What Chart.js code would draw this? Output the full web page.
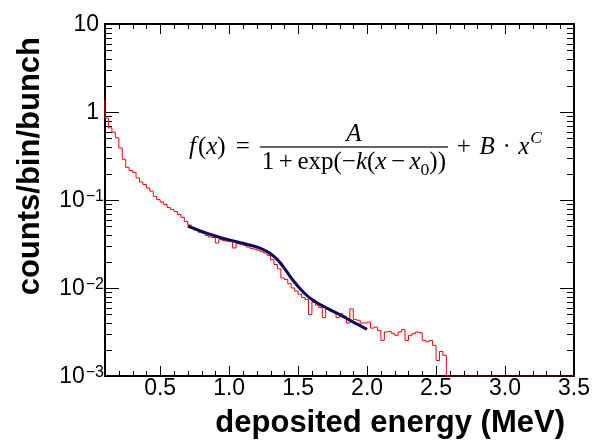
<!DOCTYPE html>
<html>
<head>
<meta charset="utf-8">
<script src="https://cdn.jsdelivr.net/npm/chart.js@4.4.0/dist/chart.umd.min.js"></script>
<style>
  html, body { margin: 0; padding: 0; background: #fff; }
  #wrap { width: 594px; height: 440px; }
</style>
</head>
<body>
<div id="wrap"><canvas id="c" width="594" height="440"></canvas></div>
<script>
// histogram: 0.025 MeV bins starting at 0.1 MeV
const binStart = 0.1;
const binWidth = 0.025;
const counts = [
  1.37, 0.85, 0.66, 0.59, 0.51, 0.39, 0.29, 0.235, 0.216, 0.206,
  0.178, 0.160, 0.150, 0.137, 0.126, 0.110, 0.101, 0.095, 0.089, 0.082,
  0.078, 0.074, 0.0686, 0.0634, 0.057, 0.052, 0.049, 0.0455, 0.043, 0.042,
  0.0395, 0.038, 0.0375, 0.0325, 0.0355, 0.0345, 0.0340, 0.0335, 0.0285, 0.0320,
  0.0315, 0.0305, 0.0292, 0.0282, 0.0276, 0.0268, 0.0258, 0.0250, 0.0235, 0.0210,
  0.0185, 0.0165, 0.0130, 0.0125, 0.0112, 0.0100, 0.0092, 0.0085, 0.0078, 0.0074,
  0.0050, 0.0069, 0.0064, 0.0060, 0.0046, 0.0057, 0.0055, 0.0053, 0.0046, 0.0051,
  0.0048, 0.0040, 0.0058, 0.0044, 0.0043, 0.0040, 0.0040, 0.0041, 0.0035, 0.0036,
  0.00328, 0.00254, 0.00316, 0.0032, 0.00306, 0.0029, 0.00316, 0.00337, 0.00254, 0.0029,
  0.00303, 0.00316, 0.0031, 0.00254, 0.00245, 0.00254, 0.00223, 0.0015, 0.0019, 0.00172,
  0, 0, 0, 0, 0, 0, 0, 0, 0,
  0, 0, 0, 0, 0, 0, 0, 0, 0,
  0, 0, 0, 0, 0, 0, 0, 0, 0,
  0, 0, 0, 0, 0, 0, 0, 0, 0
];

// fitted curve
const fitX = [0.70, 0.80, 0.90, 1.00, 1.10, 1.20, 1.25, 1.30, 1.35, 1.40,
              1.45, 1.50, 1.55, 1.60, 1.70, 1.80, 1.90, 2.00];
const fitY = [0.0505, 0.0440, 0.0390, 0.0352, 0.0322, 0.0292, 0.0272, 0.0245, 0.0210, 0.0168,
              0.0130, 0.0104, 0.0086, 0.0074, 0.0060, 0.0050, 0.0041, 0.0034];

const xMajorTicks = [0.5, 1.0, 1.5, 2.0, 2.5, 3.0, 3.5];
const xTickLabels = ['0.5', '1.0', '1.5', '2.0', '2.5', '3.0', '3.5'];
const yMajorTicks = [0.001, 0.01, 0.1, 1, 10];
const yTickLabels = [['10', '\u22123'], ['10', '\u22122'], ['10', '\u22121'], ['1', ''], ['10', '']];

const xMin = 0.1, xMax = 3.5, yMin = 0.001, yMax = 10;

const histPoints = counts.map((v, i) => ({ x: binStart + i * binWidth, y: v > 0 ? v : yMin }));
histPoints.push({ x: binStart + counts.length * binWidth, y: histPoints[histPoints.length - 1].y });
const fitPoints = fitX.map((x, i) => ({ x: x, y: fitY[i] }));

const SANS = '"Liberation Sans", Arial, sans-serif';
const SERIF = '"Liberation Serif", "Times New Roman", serif';

function drawRuns(ctx, runs, x, base, size, measureOnly) {
  for (const r of runs) {
    if (r.gap) { x += r.gap * size; continue; }
    const fs = (r.sub || r.sup) ? size * 0.7 : size;
    ctx.font = (r.it ? 'italic ' : '') + fs + 'px ' + SERIF;
    const dy = r.sub ? size * 0.22 : r.sup ? -size * 0.45 : 0;
    if (!measureOnly) ctx.fillText(r.t, x, base + dy);
    x += ctx.measureText(r.t).width;
  }
  return x;
}

const formulaLeft = [
  { t: 'f', it: true }, { gap: 0.08 }, { t: '(' }, { t: 'x', it: true }, { t: ')' },
  { gap: 0.4 }, { t: '=' }, { gap: 0.4 }
];
const formulaNum = [{ t: 'A', it: true }];
const formulaDen = [
  { t: '1' }, { gap: 0.18 }, { t: '+' }, { gap: 0.18 }, { t: 'exp(' }, { t: '\u2212' },
  { t: 'k', it: true }, { t: '(' }, { t: 'x', it: true }, { gap: 0.18 }, { t: '\u2212' },
  { gap: 0.18 }, { t: 'x', it: true }, { t: '0', sub: true }, { t: '))' }
];
const formulaRight = [
  { gap: 0.35 }, { t: '+' }, { gap: 0.35 }, { t: 'B', it: true }, { gap: 0.3 },
  { t: '\u00b7' }, { gap: 0.3 }, { t: 'x', it: true }, { gap: 0.04 }, { t: 'C', it: true, sup: true }
];

const rootStyle = {
  id: 'rootStyle',
  beforeDatasetsDraw(chart) {
    const { ctx, chartArea: a, scales: { x, y } } = chart;
    ctx.save();
    ctx.strokeStyle = '#000';
    ctx.lineWidth = 1;
    // x ticks (bottom and top, pointing inwards)
    for (let k = 1; k <= 35; k++) {
      const px = Math.round(x.getPixelForValue(k / 10)) + 0.5;
      const len = k % 5 === 0 ? 10 : 5;
      ctx.beginPath();
      ctx.moveTo(px, a.bottom); ctx.lineTo(px, a.bottom - len);
      ctx.moveTo(px, a.top); ctx.lineTo(px, a.top + len);
      ctx.stroke();
    }
    // y ticks (left and right)
    for (let d = -3; d <= 0; d++) {
      for (let m = 1; m <= 9; m++) {
        const v = m * Math.pow(10, d);
        const py = Math.round(y.getPixelForValue(v)) + 0.5;
        const len = m === 1 ? 14 : 7;
        ctx.beginPath();
        ctx.moveTo(a.left, py); ctx.lineTo(a.left + len, py);
        ctx.moveTo(a.right, py); ctx.lineTo(a.right - len, py);
        ctx.stroke();
      }
    }
    ctx.lineWidth = 2;
    ctx.strokeRect(a.left, a.top, a.right - a.left, a.bottom - a.top);
    ctx.restore();
  },
  afterDraw(chart) {
    const { ctx, chartArea: a, scales: { x, y } } = chart;
    ctx.save();
    ctx.fillStyle = '#000';
    // x tick labels
    ctx.font = '23px ' + SANS;
    ctx.textAlign = 'center';
    ctx.textBaseline = 'top';
    xMajorTicks.forEach((v, i) => ctx.fillText(xTickLabels[i], x.getPixelForValue(v), a.bottom + 1));
    // y tick labels
    ctx.textAlign = 'right';
    yMajorTicks.forEach((v, i) => {
      const py = y.getPixelForValue(v);
      const [base, exp] = yTickLabels[i];
      if (exp) {
        ctx.font = '16px ' + SANS;
        ctx.textBaseline = 'alphabetic';
        ctx.fillText(exp, a.left - 1, py + 1);
        const w = ctx.measureText(exp).width;
        ctx.font = '23px ' + SANS;
        ctx.textBaseline = 'middle';
        ctx.fillText(base, a.left - 2 - w, py + 1);
      } else {
        ctx.font = '23px ' + SANS;
        ctx.textBaseline = 'middle';
        ctx.fillText(base, a.left - 6, py + 1);
      }
    });
    // axis titles (ROOT style: aligned to the axis end)
    ctx.font = 'bold 31px ' + SANS;
    ctx.textAlign = 'right';
    ctx.textBaseline = 'middle';
    ctx.fillText('deposited energy (MeV)', a.right - 9, 423);
    ctx.save();
    ctx.translate(30, a.top + 13);
    ctx.rotate(-Math.PI / 2);
    ctx.fillText('counts/bin/bunch', 0, 0);
    ctx.restore();
    // formula
    ctx.textAlign = 'left';
    ctx.textBaseline = 'alphabetic';
    const size = 25, axisY = 147, x0 = 189;
    let cx = drawRuns(ctx, formulaLeft, x0, axisY + 7, size);
    const denW = drawRuns(ctx, formulaDen, 0, 0, size, true);
    const numW = drawRuns(ctx, formulaNum, 0, 0, size, true);
    const barL = cx, barR = barL + denW + 4;
    ctx.fillRect(barL, axisY - 0.6, barR - barL, 1.2);
    drawRuns(ctx, formulaNum, (barL + barR) / 2 - numW / 2, axisY - 6, size);
    drawRuns(ctx, formulaDen, barL + 2, axisY + 22, size);
    drawRuns(ctx, formulaRight, barR, axisY + 7, size);
    ctx.restore();
  }
};

new Chart(document.getElementById('c'), {
  type: 'line',
  data: {
    datasets: [
      {
        label: 'fit',
        data: fitPoints,
        borderColor: '#0b0b5c',
        borderWidth: 3,
        pointRadius: 0,
        cubicInterpolationMode: 'monotone',
        fill: false
      },
      {
        label: 'histogram',
        data: histPoints,
        borderColor: '#ff0000',
        borderWidth: 1,
        pointRadius: 0,
        stepped: 'after',
        fill: false,
        clip: 3,
        // empty bins lie on the black axis line, so they show up dark red
        segment: {
          borderColor: c => (c.p0.parsed.y <= yMin && c.p1.parsed.y <= yMin) ? '#6b1010' : undefined
        }
      }
    ]
  },
  options: {
    responsive: false,
    animation: false,
    devicePixelRatio: 1,
    layout: { padding: { left: 105, right: 20, top: 24, bottom: 64 } },
    plugins: { legend: { display: false }, tooltip: { enabled: false } },
    scales: {
      x: { type: 'linear', min: xMin, max: xMax, display: false },
      y: { type: 'logarithmic', min: yMin, max: yMax, display: false }
    }
  },
  plugins: [rootStyle]
});
</script>
</body>
</html>
